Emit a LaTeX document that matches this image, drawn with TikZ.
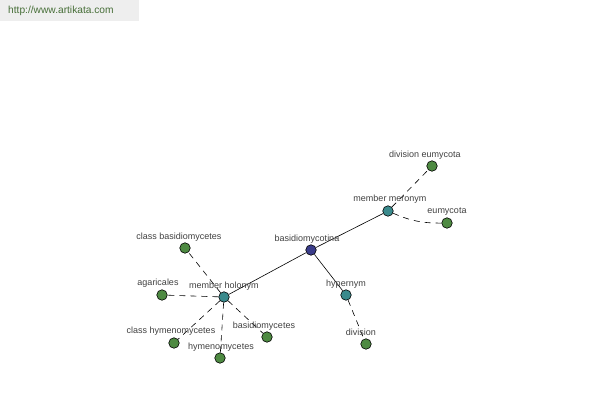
\documentclass[tikz,border=0pt]{standalone}
\usepackage{fontspec}
\setmainfont{Liberation Sans}
\definecolor{ngreen}{RGB}{78,138,66}
\definecolor{nteal}{RGB}{58,138,140}
\definecolor{nblue}{RGB}{58,60,138}
\definecolor{bannerbg}{RGB}{238,238,238}
\definecolor{bannertx}{RGB}{70,110,55}
\begin{document}
\begin{tikzpicture}[x=1pt,y=-1pt,
  dot/.style={circle,draw=black,line width=0.6pt,minimum size=10.5pt,inner sep=0pt},
  gdot/.style={dot,fill=ngreen},
  tdot/.style={dot,fill=nteal},
  bdot/.style={dot,fill=nblue},
  lbl/.style={font=\fontsize{9}{10}\selectfont,text=black!75,inner sep=0pt},
  solidedge/.style={draw=black,line width=0.6pt},
  dashedge/.style={draw=black,line width=0.6pt,dash pattern=on 6pt off 5pt}]
\useasboundingbox (0,0) rectangle (600,400);
\fill[bannerbg] (0,0) rectangle (139,21);
\node[font=\fontsize{10.2}{11}\selectfont,text=bannertx,anchor=west,inner sep=0pt] (banner) at (8,11) {http://www.artikata.com};
% nodes
\node[bdot] (bas) at (311,250) {};
\node[tdot] (mer) at (388,211) {};
\node[gdot] (deu) at (432,166) {};
\node[gdot] (eum) at (447,223) {};
\node[tdot] (hol) at (224,297) {};
\node[gdot] (cba) at (185,248) {};
\node[gdot] (aga) at (162,295) {};
\node[gdot] (chy) at (174,343) {};
\node[gdot] (hym) at (220,358) {};
\node[gdot] (bmy) at (267,337) {};
\node[tdot] (hyp) at (346,295) {};
\node[gdot] (div) at (366,344) {};
% edges
\draw[solidedge] (bas) -- (mer);
\draw[solidedge] (bas) -- (hol);
\draw[solidedge] (bas) -- (hyp);
\draw[dashedge] (mer) -- (deu);
\draw[dashedge] (mer) to[bend right=12] (eum);
\draw[dashedge] (hol) -- (cba);
\draw[dashedge] (hol) -- (aga);
\draw[dashedge] (hol) -- (chy);
\draw[dashedge] (hol) -- (hym);
\draw[dashedge] (hol) -- (bmy);
\draw[dashedge] (hyp) -- (div);
% labels
\node[lbl] (lbas) at (307,239) {basidiomycotina};
\node[lbl] (lmer) at (390,199) {member meronym};
\node[lbl] (ldeu) at (425,155) {division eumycota};
\node[lbl] (leum) at (447,212) {eumycota};
\node[lbl] (lhol) at (224,286) {member holonym};
\node[lbl] (lcba) at (179,237) {class basidiomycetes};
\node[lbl] (laga) at (158,283) {agaricales};
\node[lbl] (lchy) at (171,331) {class hymenomycetes};
\node[lbl] (lhym) at (221,347) {hymenomycetes};
\node[lbl] (lbmy) at (264,326) {basidiomycetes};
\node[lbl] (lhyp) at (346,284) {hypernym};
\node[lbl] (ldiv) at (361,332) {division};
\end{tikzpicture}
\end{document}
